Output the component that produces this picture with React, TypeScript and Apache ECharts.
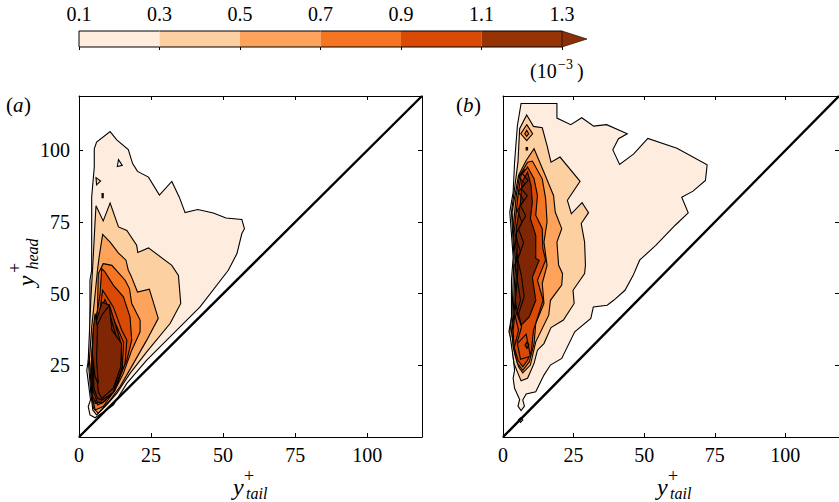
import React, { useEffect, useRef } from "react";
import * as echarts from "echarts";

const tickValuesBar = ["0.1", "0.3", "0.5", "0.7", "0.9", "1.1", "1.3"];
const barColors = ["#FEEDDE", "#FDD0A2", "#FDA35C", "#F57622", "#D84A05", "#963406"];
const arrowColor = "#8A2F08";
const L1 = "#FEEDDE", L2 = "#FDD0A2", L3 = "#FDA35C", L4 = "#F57622", L5 = "#D84A05", L6 = "#7F2704";

type P = number[][];

// Panel (a) contours, data units
const aL1: P = [[10.8,106.6],[13.1,103.7],[17.1,100.3],[18.6,95.4],[20.3,92.7],[24.1,90.7],[27.9,84.4],[32.2,89.2],[34.8,83.7],[36.8,78.3],[41.2,79.4],[46.6,78.2],[51,76.4],[56.5,75.9],[57.4,72.7],[56.5,71],[54.8,64],[51.8,58.2],[42,45.4],[32.7,36.1],[23.5,26.8],[16.6,18.7],[11.9,11.1],[5.6,6.7],[3.8,7.7],[3.2,10.6],[4,12.9],[2.7,23.3],[3.8,30.3],[3.8,54.7],[4.4,58.2],[4.4,83.7],[5.3,94.2],[5.3,100.6],[6.1,102.9]];
const aHole: P = [[13.7,96.8],[15,94.8],[13.3,94.4]];
const aIsland: P = [[5.9,90.5],[7.5,89.3],[6.1,88]];
const aSpeck: P = [[8,85],[8.4,85],[8.4,83.5],[8,83.5]];
const aL2: P = [[5.9,80.7],[8.4,75.4],[10.8,81.6],[13.7,73.3],[16.6,72.1],[20,66.9],[20.4,64.4],[24.1,66],[32.2,59.9],[34.5,56.4],[35.3,46.6],[31.6,39.6],[23.5,29.7],[17.7,22.2],[13.1,15.2],[9.6,11.2],[6.1,7.7],[4.8,9.4],[4.1,15.3],[3.2,26.8],[4.1,47.7],[5,64],[5.6,75.6]];
const aL3: P = [[8.2,70.7],[10.8,68],[13.7,64.2],[16.3,61.7],[17.1,58.2],[18,56.4],[20.3,50.6],[24.4,51.6],[27.5,41.4],[23.5,33.8],[18.9,25.7],[14.2,17.5],[10.8,12.9],[6.7,8.3],[5,10],[4.4,15.3],[3.6,26.8],[4.4,38.3],[5.6,50],[6.4,58.2],[7,62.9]];
const aL4: P = [[8.4,60.5],[11.4,59.9],[16,54.7],[17.5,51.8],[18.3,46.6],[21.2,40.8],[21.2,36.7],[18.3,30.3],[15.4,22.2],[12.5,16.4],[8.4,10.6],[5.6,9.4],[4.4,15.3],[4.1,23.3],[5,36.1],[6.4,44.3],[6.7,57]];
const aL5: P = [[7.9,58.8],[9,57.6],[11.9,53],[15.4,48.9],[17.7,41.9],[18.3,33.8],[16.6,26.8],[13.6,19.9],[10.8,14.6],[7.9,11.7],[5.6,11.7],[4.4,21],[5,32.6],[6.1,41.9],[7.3,50]];
const aL5b: P = [[8.2,51.2],[9,50],[11.9,45.4],[14.8,37.3],[16.6,33.8],[16,25.7],[13.1,18.1],[9.6,13.5],[6.7,12.3],[5,15.3],[4.6,26.8],[5.6,38.3],[7.3,44.3]];
const aN1: P = [[9,48],[15.5,33],[15,24],[12.5,17],[9,12.5],[6.5,11.2],[4.8,14],[4.3,26],[5,38]];
const aN2: P = [[8,47],[10.6,46],[14.5,33],[15,24.5],[12.3,16],[8.5,12.2],[6.4,12],[4.9,16],[4.5,26.5],[5.3,38]];
const aN3: P = [[10,45],[13.5,33],[14.2,24.5],[11.9,15.5],[8,12.9],[6.4,13.5],[5.2,17],[4.9,27],[5.6,38]];
const aL6: P = [[10.5,46],[11.4,37.3],[14.8,32.6],[14.5,24.5],[11.9,17],[7.9,13.5],[6.7,15.8],[5.6,26.8],[6.1,38.4],[7.9,42.5]];
const aBand: P = [[5.6,43.1],[6.4,38.3],[6.1,26.8],[6.7,18.7],[5.6,21],[4.6,29.2],[5,38.3]];

// Panel (b) contours, data units
const bL1: P = [[6.4,116.4],[19.1,116.4],[19.1,111.3],[24,109],[27.9,111.4],[32.1,108.5],[36.7,109],[44,105.8],[40.9,104.1],[38.9,100.2],[41.3,95.1],[46.3,98.8],[51.3,104.2],[61.6,100.8],[72.3,95],[71.7,89.5],[67.3,85.8],[63.3,83.7],[65.6,78.2],[61,73.9],[54.1,66.9],[48.4,61.7],[46.1,56.4],[43.2,51.2],[39.2,47.7],[36.9,46],[32,45.4],[31.1,41.4],[25.4,36.7],[20.8,27.4],[16.8,25.1],[14.5,21.6],[11.6,15.8],[8.2,15],[7,12.9],[7.6,10.8],[6.4,9.2],[5.3,10.8],[5.9,13.1],[4.1,17],[3.6,20.5],[4.1,23.3],[3,33.8],[2.1,36.7],[3,41.9],[3,54.7],[3.6,62.8],[2.4,78.5],[3.6,85.5],[4.1,95.9],[5.1,108.7]];
const bL2: P = [[8.4,112.4],[10.8,108.4],[13.9,107.9],[15.6,101.7],[17,95.9],[20.2,97.7],[27.3,89.2],[22.8,82.6],[24.2,77.9],[28,81.8],[30.3,78.3],[27.7,74.5],[28.9,68],[29.2,59.9],[28.9,57],[24.8,51.2],[25.2,46.6],[21.4,40.8],[17,38.2],[14.5,32.6],[12.2,30.3],[11,25.7],[8.7,20.5],[6.4,19.6],[5.3,22.2],[3.9,25.7],[2.4,36.1],[3.2,43.1],[3.6,54.7],[3.9,62.8],[3,78.5],[4.4,89],[5.3,95.9],[5.9,107.6]];
const bI3: P = [[8.4,109],[10.5,105.8],[8.4,103.4],[6.3,105.8]];
const bI4: P = [[8.4,107],[9.1,105.8],[8.4,104.9],[7.7,105.8]];
const bSpeck: P = [[8.2,101],[8.7,101],[8.7,100.2],[8.2,100.2]];
const bL3: P = [[11,100.6],[14.5,92.4],[17.9,84.3],[18.5,78.5],[20.8,72.7],[19.1,68],[19.7,59.9],[21.1,57],[20.8,53],[16.8,47.7],[16.2,42.5],[11.6,33.2],[9.7,25.1],[7,22.4],[5.5,24.5],[4.1,29.2],[3,36.7],[3.6,43.1],[4.1,54.7],[4.4,62.8],[3.2,78.5],[5.5,91.3],[8.2,96.5]];
const bL4: P = [[8.7,95.9],[10.4,96.3],[13.9,90.1],[15.1,83.2],[15.6,75],[14.5,68],[15.6,59.9],[13.9,53.6],[14.5,46.6],[11.6,39.6],[11,32.6],[9.3,26.2],[7,23.3],[5.1,25.7],[3.6,31.5],[3.2,36.7],[4.1,45.4],[4.7,58.1],[3.6,72.7],[4.7,84.3],[5.9,91.3]];
const bL5: P = [[8.7,94.2],[11,90.1],[12.2,84.3],[11.6,77.4],[13.9,72.7],[14.1,65.8],[15.1,61.7],[12.2,54.7],[14.2,47.7],[10.8,37.3],[10.1,30.3],[8.7,26.8],[7,24.5],[5.3,26.8],[3.9,31.5],[3.6,37.3],[4.7,47.7],[5.1,58.2],[4.1,72.7],[5.3,84.3],[6.4,91.3]];
const bL6: P = [[8.7,92.4],[9.9,87.8],[10.4,82],[9.7,76.2],[11.6,70.4],[11.6,62.3],[12.8,61.7],[10.4,55.7],[11.6,47.7],[9.3,41.9],[6.4,39],[5.3,41.9],[4.4,47.7],[5.3,58.2],[4.7,72.7],[6.2,82],[6.7,89]];
const bIsland: P = [[8.2,35.9],[9.7,28.2],[6.2,27.1],[5.1,32.6]];
const bDiamond: P = [[8.5,33.2],[9.2,32.1],[8.5,30.9],[7.8,32.1]];
const bDot: P = [[5.4,5.9],[6.2,6.7],[7,5.9],[6.2,5.1]];
const bZig1: P = [[7.8,93.4],[5.5,90.7],[7.8,88.4],[5.5,85.5],[7.3,82.6],[5.1,79.1],[6.7,75],[4.4,70.4],[6.2,64.6],[4.1,59.9],[5.1,54.7],[6.2,47.7],[4.4,41.9],[5.5,37.3],[4.1,31.5]];
const bZig2: P = [[6.8,92],[8.9,89.5],[6.4,86.8],[8.6,84.2],[6.2,80.8],[8,77.2],[5.5,72.6],[7.3,67.8],[5.2,62],[6.5,56.4],[7.5,49],[5.5,43],[6.6,38.5],[5,33]];

const panelA = [
  { pts: aL1, fill: L1 }, { pts: aHole, fill: "#ffffff" }, { pts: aIsland, fill: L2 }, { pts: aSpeck, fill: L3 },
  { pts: aL2, fill: L2 }, { pts: aL3, fill: L3 }, { pts: aL4, fill: L4 }, { pts: aL5, fill: L5 },
  { pts: aL5b, fill: L5 }, { pts: aN1, fill: L5 }, { pts: aN2, fill: L6 }, { pts: aN3, fill: L6 }, { pts: aL6, fill: L6 }, { pts: aBand, fill: L6 },
];
const panelB = [
  { pts: bL1, fill: L1 }, { pts: bL2, fill: L2 }, { pts: bI3, fill: L3 }, { pts: bI4, fill: L4 }, { pts: bSpeck, fill: L6 },
  { pts: bL3, fill: L3 }, { pts: bL4, fill: L4 }, { pts: bL5, fill: L5 }, { pts: bL6, fill: L6 },
  { pts: bIsland, fill: L5 }, { pts: bDiamond, fill: L6 }, { pts: bDot, fill: L1 },
  { pts: bZig1, fill: "none" }, { pts: bZig2, fill: "none" },
];
const axisMax = 119;
const diagonal = [[0, 0], [axisMax, axisMax]];

const SERIF = "'Liberation Serif', 'Times New Roman', serif";

function contourSeries(polys: { pts: P; fill: string }[], idx: number) {
  return {
    type: "custom",
    xAxisIndex: idx * 2 + 1,
    yAxisIndex: idx * 2 + 1,
    clip: true,
    silent: true,
    data: polys.map((_, i) => [i, 0]),
    encode: { x: 1, y: 1 },
    renderItem: (_p: any, api: any) => {
      const poly = polys[api.value(0)];
      const pts = poly.pts.map((d) => api.coord(d));
      if (poly.fill === "none") {
        return { type: "polyline", shape: { points: pts }, style: { fill: "none", stroke: "#000", lineWidth: 1.1 } };
      }
      return { type: "polygon", shape: { points: pts }, style: { fill: poly.fill, stroke: "#000", lineWidth: 1.1 } };
    },
  };
}

function axisPair(kind: "x" | "y", grid: number, labels: boolean) {
  const common = {
    type: "value",
    gridIndex: grid,
    min: 0,
    max: axisMax,
    interval: 25,
    splitLine: { show: false },
    axisLine: { show: true, onZero: false, lineStyle: { color: "#000", width: 1 } },
    axisTick: { show: true, inside: true, length: 4, lineStyle: { color: "#000", width: 1 } },
  };
  const main = {
    ...common,
    position: kind === "x" ? "bottom" : "left",
    axisLabel: {
      show: labels,
      fontFamily: SERIF,
      fontSize: 20,
      color: "#000",
      margin: kind === "x" ? 8 : 9,
      showMaxLabel: false,
      showMinLabel: kind === "x",
    },
  };
  const opp = { ...common, position: kind === "x" ? "top" : "right", axisLabel: { show: false } };
  return [main, opp];
}

function yTail(dx: number) {
  return [
    { type: "text", x: 233 + dx, y: 487, style: { text: "y", font: `italic 24px ${SERIF}`, fill: "#000", align: "left", verticalAlign: "middle" } },
    { type: "text", x: 244 + dx, y: 476, style: { text: "+", font: `18px ${SERIF}`, fill: "#000", align: "left", verticalAlign: "middle" } },
    { type: "text", x: 246 + dx, y: 493, style: { text: "tail", font: `italic 16px ${SERIF}`, fill: "#000", align: "left", verticalAlign: "middle" } },
  ];
}

export default function App() {
  const ref = useRef<HTMLDivElement>(null);
  useEffect(() => {
    const chart = echarts.init(ref.current!, undefined, { renderer: "svg" });
    const [ax, axT] = axisPair("x", 0, true);
    const [ay, ayR] = axisPair("y", 0, true);
    const [bx, bxT] = axisPair("x", 1, true);
    const [by, byR] = axisPair("y", 1, false);
    chart.setOption({
      animation: false,
      grid: [
        { left: 79, top: 96, width: 343, height: 341 },
        { left: 503, top: 96, width: 346, height: 341 },
        { left: 79, top: 31, width: 483, height: 16 },
      ],
      xAxis: [
        ax, axT, bx, bxT,
        {
          type: "category", gridIndex: 2, data: tickValuesBar, boundaryGap: false, position: "top",
          axisLine: { show: false },
          axisTick: { show: true, inside: true, length: 3, alignWithLabel: true, lineStyle: { color: "#000" } },
          axisLabel: { fontFamily: SERIF, fontSize: 20, color: "#000", margin: 7 },
        },
      ],
      yAxis: [
        ay, ayR, by, byR,
        { type: "value", gridIndex: 2, min: 0, max: 1, show: false },
      ],
      series: [
        contourSeries(panelA, 0),
        { type: "line", xAxisIndex: 1, yAxisIndex: 1, data: diagonal, showSymbol: false, silent: true, lineStyle: { color: "#000", width: 2.4 } },
        contourSeries(panelB, 1),
        { type: "line", xAxisIndex: 3, yAxisIndex: 3, data: diagonal, showSymbol: false, silent: true, lineStyle: { color: "#000", width: 2.4 } },
        {
          type: "custom", xAxisIndex: 4, yAxisIndex: 4, silent: true, clip: false,
          data: barColors.map((_, i) => [i, 0]),
          renderItem: (_p: any, api: any) => {
            const i = api.value(0);
            const a = api.coord([i, 1]);
            const b = api.coord([i + 1, 0]);
            const rect = { type: "rect", shape: { x: a[0], y: a[1], width: b[0] - a[0], height: b[1] - a[1] }, style: { fill: barColors[i], stroke: "none" } };
            const top = { type: "line", shape: { x1: a[0], y1: a[1], x2: b[0], y2: a[1] }, style: { stroke: "#000", lineWidth: 1 } };
            const bot = { type: "line", shape: { x1: a[0], y1: b[1], x2: b[0], y2: b[1] }, style: { stroke: "#000", lineWidth: 1 } };
            const children: any[] = [rect, top, bot];
            if (i === 0) children.push({ type: "line", shape: { x1: a[0], y1: a[1], x2: a[0], y2: b[1] }, style: { stroke: "#000", lineWidth: 1 } });
            if (i === barColors.length - 1) {
              children.push({
                type: "polygon",
                shape: { points: [[b[0], a[1]], [b[0] + 25, (a[1] + b[1]) / 2], [b[0], b[1]]] },
                style: { fill: arrowColor, stroke: "#000", lineWidth: 0.6 },
              });
            }
            return { type: "group", children };
          },
        },
      ],
      graphic: [
        { type: "text", x: 530, y: 71, style: { text: "(10", font: `20px ${SERIF}`, fill: "#000", verticalAlign: "middle" } },
        { type: "text", x: 558, y: 64, style: { text: "−3", font: `14px ${SERIF}`, fill: "#000", verticalAlign: "middle" } },
        { type: "text", x: 577, y: 71, style: { text: ")", font: `20px ${SERIF}`, fill: "#000", verticalAlign: "middle" } },
        { type: "text", x: 6, y: 105, style: { text: "(", font: `21px ${SERIF}`, fill: "#000", verticalAlign: "middle" } },
        { type: "text", x: 13, y: 105, style: { text: "a", font: `italic 21px ${SERIF}`, fill: "#000", verticalAlign: "middle" } },
        { type: "text", x: 24, y: 105, style: { text: ")", font: `21px ${SERIF}`, fill: "#000", verticalAlign: "middle" } },
        { type: "text", x: 456, y: 105, style: { text: "(", font: `21px ${SERIF}`, fill: "#000", verticalAlign: "middle" } },
        { type: "text", x: 463, y: 105, style: { text: "b", font: `italic 21px ${SERIF}`, fill: "#000", verticalAlign: "middle" } },
        { type: "text", x: 474, y: 105, style: { text: ")", font: `21px ${SERIF}`, fill: "#000", verticalAlign: "middle" } },
        ...yTail(0),
        ...yTail(424),
        { type: "text", x: 26, y: 281, rotation: Math.PI / 2, style: { text: "y", font: `italic 24px ${SERIF}`, fill: "#000", align: "center", verticalAlign: "middle" } },
        { type: "text", x: 15, y: 268, rotation: Math.PI / 2, style: { text: "+", font: `18px ${SERIF}`, fill: "#000", align: "center", verticalAlign: "middle" } },
        { type: "text", x: 32, y: 254, rotation: Math.PI / 2, style: { text: "head", font: `italic 16px ${SERIF}`, fill: "#000", align: "center", verticalAlign: "middle" } },
      ],
    });
    return () => chart.dispose();
  }, []);
  return <div ref={ref} style={{ position: "absolute", left: 0, top: 0, width: 839, height: 502 }} />;
}
